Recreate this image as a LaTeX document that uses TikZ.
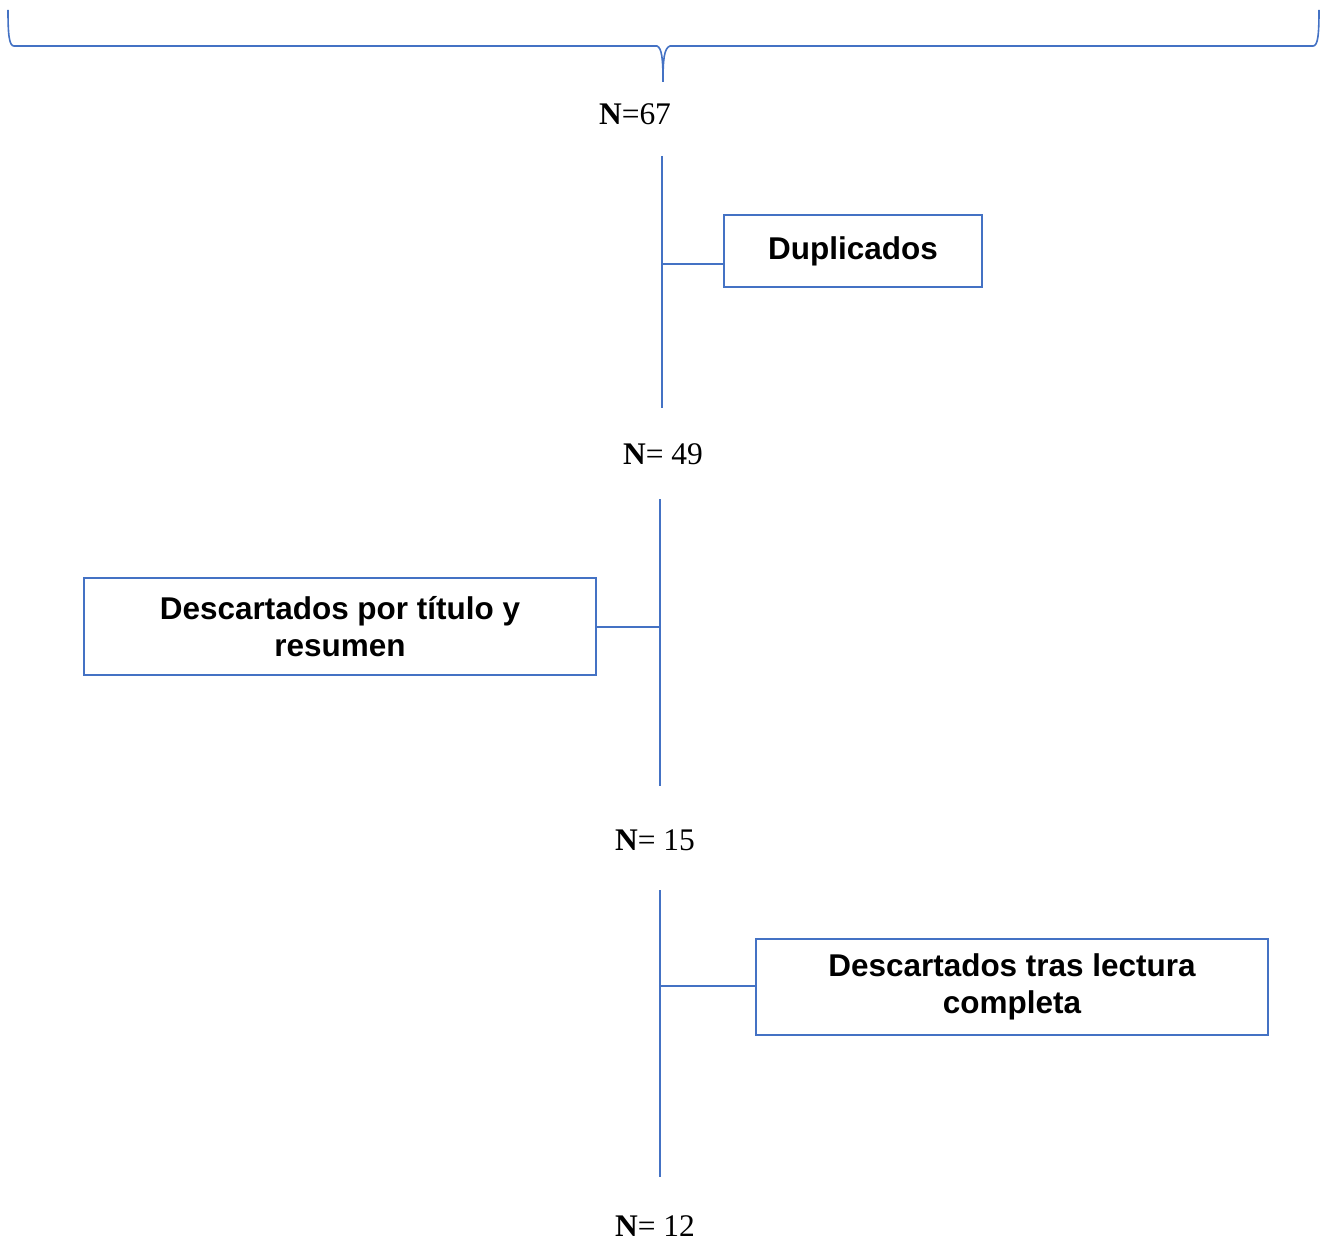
\documentclass[tikz,border=0pt]{standalone}
\usepackage{fontspec}
\setmainfont{Liberation Serif}
\newfontfamily\boxfont{Liberation Sans}
\definecolor{lineblue}{HTML}{4472C4}
\begin{document}
\begin{tikzpicture}[x=0.75pt,y=-0.75pt,
  stepbox/.style={draw=lineblue, line width=1.5pt, inner sep=0pt, align=center,
    font=\boxfont\bfseries\fontsize{23.6}{27.75}\selectfont},
  countlabel/.style={inner sep=0pt, font=\fontsize{23.6}{28}\selectfont},
  conn/.style={draw=lineblue, line width=0.8pt}]
\useasboundingbox (0,0) rectangle (1329,1241);
% brace
\draw[lineblue, line width=1.2pt] (8,10) .. controls (8,34) and (9,46) .. (14,46) -- (657,46)
  .. controls (662,48) and (663,60) .. (663,82)
  .. controls (663,60) and (664,48) .. (670,46) -- (1313,46)
  .. controls (1318,46) and (1319,34) .. (1319,10);
% counts
\node[countlabel] (n67) at (635,114) {\textbf{N}=67};
\node[countlabel] (n49) at (663,454) {\textbf{N}= 49};
\node[countlabel] (n15) at (655,840) {\textbf{N}= 15};
\node[countlabel] (n12) at (655,1226) {\textbf{N}= 12};
% boxes
\node[stepbox, minimum width=193.5pt, minimum height=54pt] (dup) at (853,251) {Duplicados};
\node[stepbox, minimum width=384pt, minimum height=72.75pt] (tit) at (340,626.5) {Descartados por título y\\resumen};
\node[stepbox, minimum width=384pt, minimum height=72pt] (lec) at (1012,987) {Descartados tras lectura\\completa};
% vertical lines
\coordinate (a1) at (662,156); \coordinate (a2) at (662,408);
\coordinate (b1) at (660,499); \coordinate (b2) at (660,786);
\coordinate (c1) at (660,890); \coordinate (c2) at (660,1177);
\path[conn] (a1) -- (a2);
\path[conn] (b1) -- (b2);
\path[conn] (c1) -- (c2);
% branches
\path[conn] (662,264) -- (dup.west |- 0,264);
\path[conn] (660,627) -- (tit.east |- 0,627);
\path[conn] (660,986) -- (lec.west |- 0,986);
\end{tikzpicture}
\end{document}
